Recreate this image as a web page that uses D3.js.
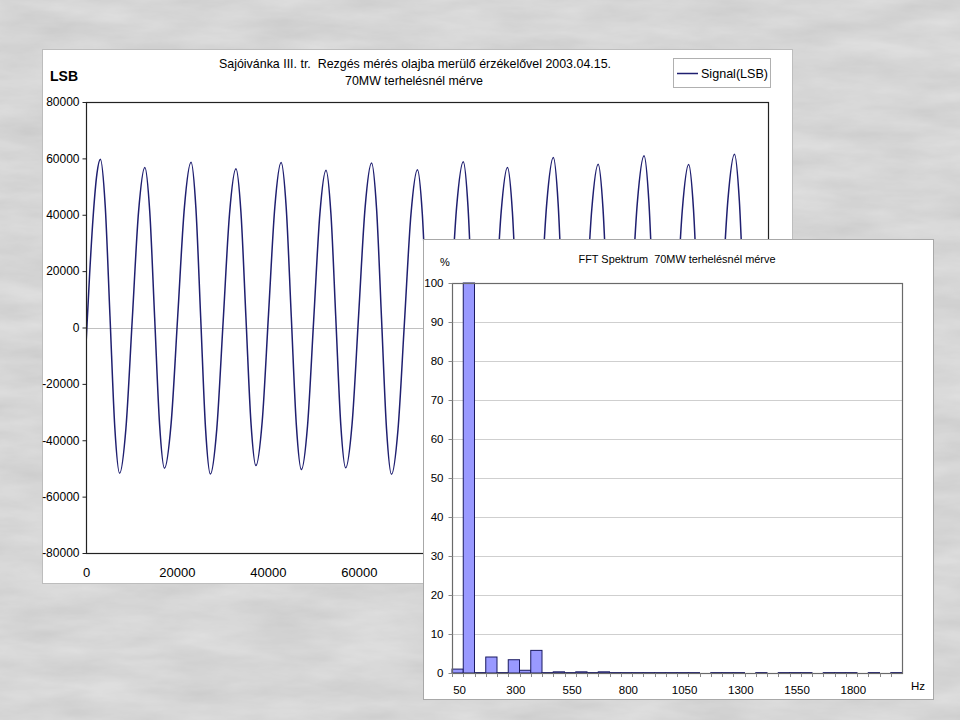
<!DOCTYPE html>
<html><head><meta charset="utf-8">
<script src="https://cdn.jsdelivr.net/npm/d3@7"></script>
<style>
body{margin:0;background:#dcdcdc;}
svg{display:block;font-family:"Liberation Sans",Arial,sans-serif;}
text{white-space:pre;}
</style>
</head><body>
<svg id="c" width="960" height="720"></svg>
<script>
// ---------- DATA ----------
const sampleIdx = [0,800,1600,2400,3160,4218,5275,6333,7390,8778,10165,11553,12940,14020,15100,16180,17260,18723,20185,21648,23110,24170,25230,26290,27350,28758,30165,31573,32980,34078,35175,36273,37370,38758,40145,41533,42920,44033,45145,46258,47370,48725,50080,51435,52790,53870,54950,56030,57110,58535,59960,61385,62810,63905,65000,66095,67190,68618,70045,71473,72900,73963,75025,76088,77150,78608,80065,81523,82980,84023,85065,86108,87150,88538,89925,91313,92700,93775,94850,95925,97000,98448,99895,101343,102790,103843,104895,105948,107000,108413,109825,111238,112650,113713,114775,115838,116900,118360,119820,121280,122740,123805,124870,125935,127000,128388,129775,131163,132550,133613,134675,135738,136800,138258,139715,141173,142630,143698,144765,145833,146900,148325,149750];
const signal = [-6000,19000,40000,54500,59700,43380,4000,-35380,-51700,-35810,2550,40910,56800,41170,3450,-34270,-49900,-34010,4350,42710,58600,42400,3300,-35800,-52000,-36130,2150,40430,56300,40870,3650,-33570,-49000,-33250,4750,42750,58500,42550,4050,-34450,-50400,-34840,2700,40240,55800,40330,3000,-34330,-49800,-33950,4300,42550,58400,42210,3150,-35910,-52100,-36260,1950,40160,56000,40470,3000,-34470,-50000,-34060,4400,42860,58800,42710,3900,-34910,-51000,-35210,2900,41010,56800,41150,3400,-34350,-50000,-33840,5150,44140,60300,43920,4400,-35120,-51500,-35470,3200,41870,57900,42090,3950,-34190,-50000,-33750,5450,44650,60900,44510,4950,-34610,-51000,-35060,3400,41860,57800,41930,3650,-34630,-50500,-34090,5500,45090,61500,44950,5000,-34950,-51500,-35460,3250];
const mainXTicks = [0,20000,40000,60000,80000,100000,120000,140000];
const mainYTicks = [-80000,-60000,-40000,-20000,0,20000,40000,60000,80000];
const mainTitle1 = "Sajóivánka III. tr.  Rezgés mérés olajba merülő érzékelővel 2003.04.15.";
const mainTitle2 = "70MW terhelésnél mérve";
const seriesName = "Signal(LSB)";

const fftFreq = [50,100,150,200,250,300,350,400,450,500,550,600,650,700,750,800,850,900,950,1000,1050,1100,1150,1200,1250,1300,1350,1400,1450,1500,1550,1600,1650,1700,1750,1800,1850,1900,1950,2000];
const fftPct  = [1.0,100,0.1,4.1,0.1,3.4,0.7,5.8,0.1,0.3,0.1,0.3,0.1,0.3,0.1,0.1,0.1,0.1,0.1,0.1,0.1,0.1,0,0.1,0.1,0.1,0,0.1,0,0.1,0.1,0.1,0,0.1,0.1,0.1,0,0.1,0,0.1];
const fftYTicks = [0,10,20,30,40,50,60,70,80,90,100];
const fftXLabels = [50,300,550,800,1050,1300,1550,1800];
const fftTitle = "FFT Spektrum  70MW terhelésnél mérve";

// ---------- DRAW ----------
const svg = d3.select("#c");
const defs = svg.append("defs");
const f = defs.append("filter").attr("id","tex").attr("x",0).attr("y",0).attr("width","100%").attr("height","100%");
f.append("feTurbulence").attr("type","fractalNoise").attr("baseFrequency","0.012 0.05").attr("numOctaves",4).attr("seed",3);
f.append("feColorMatrix").attr("type","matrix").attr("values","0 0 0 0 0.5  0 0 0 0 0.5  0 0 0 0 0.5  0.7 0 0 0 -0.12");
svg.append("rect").attr("width",960).attr("height",720).attr("fill","#dedede");
svg.append("rect").attr("width",960).attr("height",720).attr("filter","url(#tex)");

// main panel
svg.append("rect").attr("x",42.5).attr("y",49.5).attr("width",750).attr("height",534)
  .attr("fill","#fff").attr("stroke","#bdbdbd");

const x = d3.scaleLinear().domain([0,150000]).range([86,768]);
const y = d3.scaleLinear().domain([-80000,80000]).range([553,102]);

const gm = svg.append("g");
gm.append("line").attr("x1",x(0)).attr("x2",x(150000)).attr("y1",Math.round(y(0))+0.5).attr("y2",Math.round(y(0))+0.5)
  .attr("stroke","#c0c0c0");

defs.append("clipPath").attr("id","cp").append("rect")
  .attr("x",x(0)).attr("y",y(80000)).attr("width",x(150000)-x(0)).attr("height",y(-80000)-y(80000));

const pts = sampleIdx.map((s,i)=>[s,signal[i]]);
gm.append("path").datum(pts).attr("clip-path","url(#cp)")
  .attr("fill","none").attr("stroke","#1f1f70").attr("stroke-width",1.5)
  .attr("d", d3.line().x(d=>x(d[0])).y(d=>y(d[1])).curve(d3.curveMonotoneX));

gm.append("rect").attr("x",x(0)+0.5).attr("y",y(80000)+0.5).attr("width",x(150000)-x(0)).attr("height",y(-80000)-y(80000))
  .attr("fill","none").attr("stroke","#222").attr("stroke-width",1.2);

const yAx = gm.append("g").attr("transform",`translate(${x(0)+0.5},0)`)
  .call(d3.axisLeft(y).tickValues(mainYTicks).tickFormat(d=>String(d)).tickSize(4).tickPadding(3));
yAx.select(".domain").remove();
yAx.selectAll("line").attr("stroke","#222");
yAx.selectAll("text").attr("font-size",12).attr("fill","#000").attr("font-family","Liberation Sans, Arial");

const xAx = gm.append("g").attr("transform",`translate(0,${y(-80000)+0.5})`)
  .call(d3.axisBottom(x).tickValues(mainXTicks).tickFormat(d=>String(d)).tickSize(0).tickPadding(14));
xAx.select(".domain").remove();
xAx.selectAll("text").attr("font-size",13).attr("fill","#000").attr("font-family","Liberation Sans, Arial");

gm.append("text").attr("x",415).attr("y",68).attr("text-anchor","middle").attr("font-size",13.5)
  .attr("textLength",392).attr("lengthAdjust","spacingAndGlyphs").text(mainTitle1);
gm.append("text").attr("x",414).attr("y",85).attr("text-anchor","middle").attr("font-size",13.5)
  .attr("textLength",138).attr("lengthAdjust","spacingAndGlyphs").text(mainTitle2);
gm.append("text").attr("x",50).attr("y",81).attr("font-size",14).attr("font-weight","bold").text("LSB");

// legend
gm.append("rect").attr("x",673.5).attr("y",58.5).attr("width",97).attr("height",29).attr("fill","#fff").attr("stroke","#b0b0b0");
gm.append("line").attr("x1",677).attr("x2",698).attr("y1",73.5).attr("y2",73.5).attr("stroke","#1f1f70").attr("stroke-width",1.5);
gm.append("text").attr("x",701).attr("y",78).attr("font-size",13).attr("textLength",67).attr("lengthAdjust","spacingAndGlyphs").text(seriesName);

// ---------- FFT inset ----------
const gi = svg.append("g");
gi.append("rect").attr("x",423.5).attr("y",239.5).attr("width",510).attr("height",460)
  .attr("fill","#fff").attr("stroke","#a8a8a8");

const xb = d3.scaleBand().domain(fftFreq).range([452,902]).padding(0);
const yb = d3.scaleLinear().domain([0,100]).range([673,283]);

gi.selectAll(".grid").data(fftYTicks.filter(v=>v>0&&v<100)).enter().append("line")
  .attr("x1",452).attr("x2",902).attr("y1",d=>Math.round(yb(d))+0.5).attr("y2",d=>Math.round(yb(d))+0.5)
  .attr("stroke","#cfcfcf");

gi.selectAll(".bar").data(fftFreq).enter().append("rect")
  .attr("x",d=>xb(d)).attr("width",xb.bandwidth())
  .attr("y",(d,i)=>yb(fftPct[i])).attr("height",(d,i)=>yb(0)-yb(fftPct[i]))
  .attr("fill","#9999ff").attr("stroke","#1a1a60").attr("stroke-width",1);

gi.append("rect").attr("x",452.5).attr("y",283.5).attr("width",450).attr("height",390)
  .attr("fill","none").attr("stroke","#6a6a6a").attr("stroke-width",1.2);

gi.selectAll(".xt").data(fftFreq).enter().append("line")
  .attr("x1",d=>Math.round(xb(d))+0.5).attr("x2",d=>Math.round(xb(d))+0.5)
  .attr("y1",673.5).attr("y2",677).attr("stroke","#8a8a8a");

const yAxI = gi.append("g").attr("transform","translate(452.5,0)")
  .call(d3.axisLeft(yb).tickValues(fftYTicks).tickSize(4).tickPadding(5));
yAxI.select(".domain").remove();
yAxI.selectAll("line").attr("stroke","#8a8a8a");
yAxI.selectAll("text").attr("font-size",11.5).attr("fill","#000").attr("font-family","Liberation Sans, Arial");

gi.selectAll(".xl").data(fftXLabels).enter().append("text")
  .attr("x",d=>xb(d)+xb.bandwidth()/2+2).attr("y",694).attr("text-anchor","middle")
  .attr("font-size",11.5).text(d=>d);

gi.append("text").attr("x",918).attr("y",690).attr("text-anchor","middle").attr("font-size",11.5).text("Hz");
gi.append("text").attr("x",445).attr("y",266).attr("text-anchor","middle").attr("font-size",11).text("%");
gi.append("text").attr("x",677).attr("y",263).attr("text-anchor","middle").attr("font-size",11)
  .attr("textLength",197).attr("lengthAdjust","spacingAndGlyphs").text(fftTitle);
</script>
</body></html>
